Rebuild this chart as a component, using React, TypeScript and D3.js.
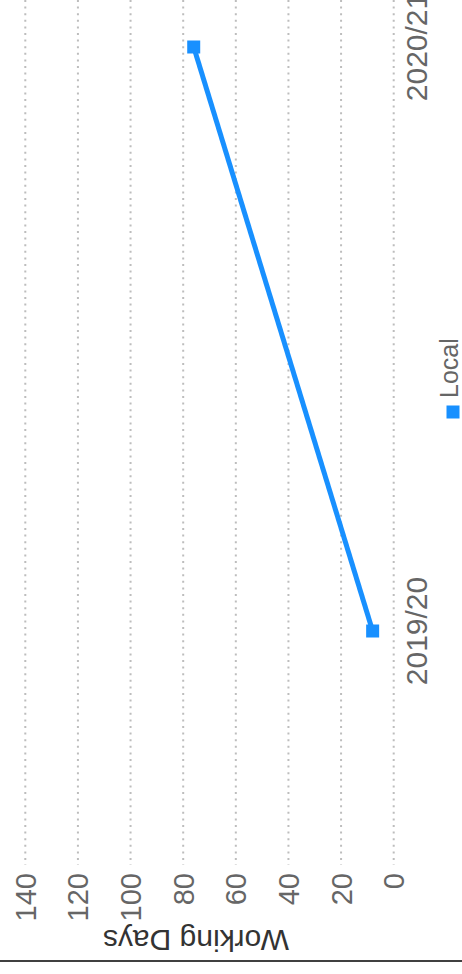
import React from "react";
import * as d3 from "d3";

const categories = ["2019/20", "2020/21"];
const localValues = [8, 76];
const valueTicks = [0, 20, 40, 60, 80, 100, 120, 140];
const seriesName = "Local";
const valueTitle = "Working Days";

const W = 462;
const H = 974;
const BLUE = "#1890ff";
const GRID = "#bdbdbd";
const TEXT = "#666666";
const FONT = "'Liberation Sans', Arial, Helvetica, sans-serif";

export default function App() {
  // chart is rotated 90° counter-clockwise: value axis runs right->left, categories bottom->top
  const x = d3.scaleLinear().domain([0, 140]).range([393.7, 25.3]);
  const y = d3.scalePoint<string>().domain(categories).range([631, 47]);
  const gridTop = 0;
  const gridBottom = 865;

  const pts = categories.map((c, i) => ({ c, v: localValues[i] }));
  const line = d3
    .line<{ c: string; v: number }>()
    .x((d) => x(d.v))
    .y((d) => y(d.c) as number);

  const ms = 13;

  return (
    <svg
      width={W}
      height={H}
      style={{ position: "absolute", left: 0, top: 0, background: "#fff" }}
      fontFamily={FONT}
    >
      <rect x={0} y={0} width={W} height={H} fill="#fff" />
      {valueTicks.map((t) => (
        <line
          key={"g" + t}
          x1={x(t)}
          x2={x(t)}
          y1={gridTop}
          y2={gridBottom}
          stroke={GRID}
          strokeWidth={2}
          strokeDasharray="2,4.6"
        />
      ))}
      {valueTicks.map((t) => (
        <text
          key={"t" + t}
          transform={`translate(${x(t)},873) rotate(-90)`}
          textAnchor="end"
          dy="0.36em"
          fontSize={29}
          fill={TEXT}
        >
          {t}
        </text>
      ))}
      <text
        transform={`translate(196,930) rotate(180)`}
        textAnchor="middle"
        fontSize={30}
        fill={"#333"}
      >
        {valueTitle}
      </text>
      {categories.map((c) => (
        <text
          key={"c" + c}
          transform={`translate(427,${y(c)}) rotate(-90)`}
          textAnchor="middle"
          fontSize={30}
          fill={TEXT}
        >
          {c}
        </text>
      ))}
      <path d={line(pts) || ""} fill="none" stroke={BLUE} strokeWidth={5} />
      {pts.map((p) => (
        <rect
          key={"m" + p.c}
          x={x(p.v) - ms / 2}
          y={(y(p.c) as number) - ms / 2}
          width={ms}
          height={ms}
          fill={BLUE}
        />
      ))}
      <rect x={453 - 6.5} y={412 - 6.5} width={13} height={13} fill={BLUE} />
      <text
        transform={`translate(458,398) rotate(-90)`}
        textAnchor="start"
        fontSize={25}
        fill={TEXT}
      >
        {seriesName}
      </text>
      <line x1={0} x2={W} y1={961} y2={961} stroke="#000" strokeWidth={1.5} />
    </svg>
  );
}
